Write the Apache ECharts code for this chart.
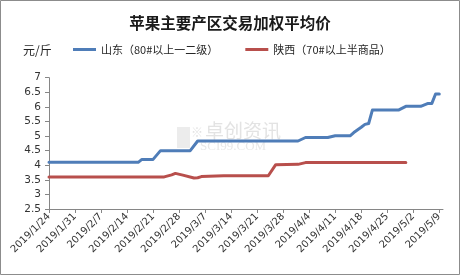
<!DOCTYPE html>
<html><head><meta charset="utf-8">
<script src="https://cdn.jsdelivr.net/npm/echarts@6/dist/echarts.min.js"></script>
<style>html,body{margin:0;padding:0;background:#fff}#c{width:460px;height:275px}</style>
</head><body><div id="c"></div>
<script>
const titleText = '苹果主要产区交易加权平均价';
const unitText = '元/斤';
const seriesNames = ['山东（80#以上一二级）', '陕西（70#以上半商品）'];
const startDate = '2019/1/24';
const endDate = '2019/5/10';
const yMin = 2.5, yMax = 7, yStep = 0.5;

const shandongDates = ['2019/1/24','2019/2/17','2019/2/18','2019/2/21','2019/2/23','2019/3/3','2019/3/5','2019/4/1','2019/4/3','2019/4/9','2019/4/11','2019/4/15','2019/4/16','2019/4/18','2019/4/19','2019/4/20','2019/4/21','2019/4/28','2019/4/30','2019/5/4','2019/5/6','2019/5/7','2019/5/8','2019/5/9'];
const shandongValues = [4.1,4.1,4.2,4.2,4.5,4.5,4.83,4.83,4.95,4.95,5.01,5.01,5.12,5.3,5.4,5.43,5.89,5.89,6.02,6.02,6.12,6.12,6.44,6.44];

const shaanxiDates = ['2019/1/24','2019/2/24','2019/2/26','2019/2/27','2019/3/1','2019/3/4','2019/3/5','2019/3/6','2019/3/12','2019/3/24','2019/3/26','2019/4/1','2019/4/3','2019/4/30'];
const shaanxiValues = [3.6,3.6,3.67,3.72,3.66,3.56,3.57,3.61,3.64,3.64,4.02,4.03,4.09,4.09];

// category list (every day from start to end)
function parseD(s){const p=s.split('/').map(Number);return Date.UTC(p[0],p[1]-1,p[2]);}
function fmtD(t){const d=new Date(t);return d.getUTCFullYear()+'/'+(d.getUTCMonth()+1)+'/'+d.getUTCDate();}
const categories = [];
for (let t = parseD(startDate); t <= parseD(endDate); t += 86400000) categories.push(fmtD(t));

const pair = (ds, vs) => ds.map((d, i) => [d, vs[i]]);
const axisColor = '#868686';
const textColor = '#333333';
const fontFam = '"DejaVu Sans", "Noto Sans CJK SC", sans-serif';

const chart = echarts.init(document.getElementById('c'), null, {renderer: 'canvas'});
chart.setOption({
  animation: false,
  backgroundColor: '#ffffff',
  title: {
    text: titleText, left: 'center', top: 10,
    textStyle: {fontSize: 15.5, fontWeight: 'bold', color: '#1a1a1a', fontFamily: '"Noto Sans CJK SC", sans-serif'}
  },
  legend: {
    left: 73, top: 44, padding: 0, itemGap: 27, itemWidth: 23, itemHeight: 3, icon: 'rect',
    textStyle: {fontSize: 11, color: '#262626', fontFamily: '"Noto Sans CJK SC", sans-serif'},
    data: seriesNames
  },
  graphic: [
    {type: 'rect', shape: {x: 0.5, y: 0.5, width: 459, height: 274}, style: {fill: 'none', stroke: '#8c8c8c', lineWidth: 1}, silent: true, z: 0},
    {type: 'text', left: 23, top: 44, style: {text: unitText, fontSize: 12, fill: '#262626', fontFamily: '"Noto Sans CJK SC", sans-serif'}},
    {type: 'rect', shape: {x: 177, y: 127, width: 13, height: 21}, style: {fill: '#ececec'}, silent: true, z: -1},
    {type: 'text', left: 191, top: 126, style: {text: '※', fontSize: 12, fill: '#e3e3e3', fontFamily: '"Noto Sans CJK SC", sans-serif'}, silent: true, z: -1},
    {type: 'text', left: 205, top: 121, style: {text: '卓创资讯', fontSize: 19, fill: '#e3e3e3', fontFamily: '"Noto Sans CJK SC", sans-serif'}, silent: true, z: -1},
    {type: 'text', left: 200, top: 140, style: {text: 'SCI99.COM', fontSize: 13, fill: '#e8e8e8', fontFamily: '"Liberation Serif", serif'}, silent: true, z: -1}
  ],
  grid: {left: 49, right: 17, top: 77.7, bottom: 66, containLabel: false, outerBoundsMode: 'none'},
  xAxis: {
    type: 'category', data: categories, boundaryGap: false,
    axisLine: {lineStyle: {color: axisColor, width: 1}},
    axisTick: {interval: 6, length: 4, lineStyle: {color: axisColor}},
    axisLabel: {interval: 6, rotate: 45, fontSize: 10, color: textColor, margin: 6, fontFamily: fontFam},
    splitLine: {show: false}
  },
  yAxis: {
    type: 'value', min: yMin, max: yMax, interval: yStep,
    axisLine: {show: true, lineStyle: {color: axisColor, width: 1}},
    axisTick: {show: true, length: 4, lineStyle: {color: axisColor}},
    axisLabel: {fontSize: 10.5, color: textColor, margin: 8, fontFamily: fontFam},
    splitLine: {show: false}
  },
  series: [
    {name: seriesNames[0], type: 'line', data: pair(shandongDates, shandongValues), showSymbol: false, symbol: 'none',
     color: '#4F7DB8', lineStyle: {width: 3, color: '#4F7DB8', cap: 'round', join: 'round'}},
    {name: seriesNames[1], type: 'line', data: pair(shaanxiDates, shaanxiValues), showSymbol: false, symbol: 'none',
     color: '#B84F4C', lineStyle: {width: 3, color: '#B84F4C', cap: 'round', join: 'round'}}
  ]
});
</script></body></html>
